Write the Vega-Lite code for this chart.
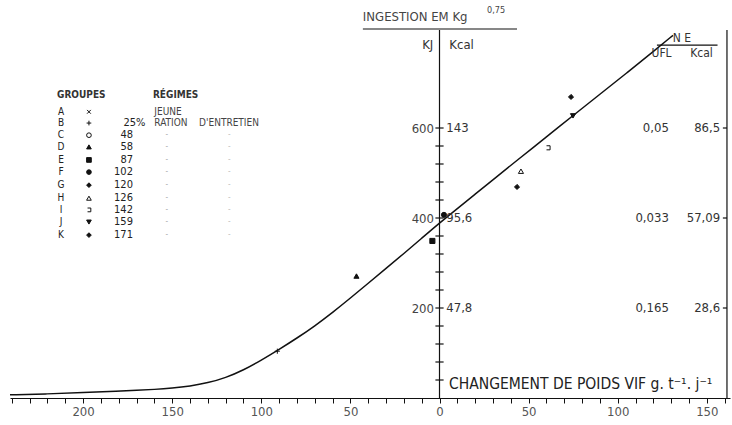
{
  "$schema": "https://vega.github.io/schema/vega-lite/v6.json",
  "width": 720,
  "height": 396,
  "autosize": {"type": "none"},
  "padding": {"left": 10, "top": 2, "right": 2, "bottom": 27},
  "background": "white",
  "config": {
    "view": {"stroke": null},
    "font": "DejaVu Sans Condensed, Liberation Sans Narrow, Liberation Sans, sans-serif",
    "text": {"font": "DejaVu Sans Condensed, Liberation Sans Narrow, Liberation Sans, sans-serif", "color": "#222"}
  },
  "resolve": {"axis": {"x": "independent", "y": "independent"}},
  "datasets": {
    "curve": [
      {"x": -241, "y": 7}, {"x": -220, "y": 9}, {"x": -200, "y": 12}, {"x": -180, "y": 15},
      {"x": -170, "y": 17}, {"x": -160, "y": 19}, {"x": -150, "y": 22}, {"x": -140, "y": 26.5},
      {"x": -130, "y": 33.5}, {"x": -120, "y": 45}, {"x": -110, "y": 62}, {"x": -100, "y": 84},
      {"x": -90, "y": 108}, {"x": -80, "y": 133}, {"x": -70, "y": 160}, {"x": -60, "y": 190},
      {"x": -50, "y": 222}, {"x": -40, "y": 255}, {"x": -30, "y": 288}, {"x": -20, "y": 321},
      {"x": -10, "y": 355}, {"x": 0, "y": 389}, {"x": 10, "y": 421}, {"x": 20, "y": 453},
      {"x": 30, "y": 485}, {"x": 45, "y": 533}, {"x": 60, "y": 580}, {"x": 75, "y": 628},
      {"x": 90, "y": 675}, {"x": 105, "y": 722}, {"x": 120, "y": 770}, {"x": 131, "y": 806}
    ],
    "points": [
      {"g": "B", "x": -91, "y": 104},
      {"g": "D", "x": -46.6, "y": 271},
      {"g": "E", "x": -4, "y": 349},
      {"g": "F", "x": 2.5, "y": 407},
      {"g": "G", "x": 43.5, "y": 469},
      {"g": "H", "x": 45.7, "y": 504},
      {"g": "I", "x": 60.9, "y": 556},
      {"g": "K", "x": 73.8, "y": 669},
      {"g": "J", "x": 74.9, "y": 627}
    ],
    "legend": [
      {"g": "A", "y": 636, "num": ""},
      {"g": "B", "y": 611, "num": ""},
      {"g": "C", "y": 584, "num": "48"},
      {"g": "D", "y": 558, "num": "58"},
      {"g": "E", "y": 529, "num": "87"},
      {"g": "F", "y": 502, "num": "102"},
      {"g": "G", "y": 473, "num": "120"},
      {"g": "H", "y": 444, "num": "126"},
      {"g": "I", "y": 418, "num": "142"},
      {"g": "J", "y": 391, "num": "159"},
      {"g": "K", "y": 362, "num": "171"}
    ],
    "segs": [
      {"x": 0, "x2": 0, "y": 0, "y2": 818},
      {"x": 161.3, "x2": 161.3, "y": 0, "y2": 818},
      {"x": -43, "x2": 43.5, "y": 820, "y2": 820},
      {"x": 122, "x2": 156, "y": 784, "y2": 784},
      {"x": -2.3, "x2": 2.3, "y": 40, "y2": 40},
      {"x": -2.3, "x2": 2.3, "y": 80, "y2": 80},
      {"x": -2.3, "x2": 2.3, "y": 120, "y2": 120},
      {"x": -2.3, "x2": 2.3, "y": 160, "y2": 160},
      {"x": -2.3, "x2": 2.3, "y": 200, "y2": 200},
      {"x": -2.3, "x2": 2.3, "y": 240, "y2": 240},
      {"x": -2.3, "x2": 2.3, "y": 280, "y2": 280},
      {"x": -2.3, "x2": 2.3, "y": 320, "y2": 320},
      {"x": -2.3, "x2": 2.3, "y": 360, "y2": 360},
      {"x": -2.3, "x2": 2.3, "y": 400, "y2": 400},
      {"x": -2.3, "x2": 2.3, "y": 440, "y2": 440},
      {"x": -2.3, "x2": 2.3, "y": 480, "y2": 480},
      {"x": -2.3, "x2": 2.3, "y": 520, "y2": 520},
      {"x": -2.3, "x2": 2.3, "y": 560, "y2": 560},
      {"x": -2.3, "x2": 2.3, "y": 600, "y2": 600},
      {"x": 159, "x2": 161.3, "y": 600, "y2": 600},
      {"x": 159, "x2": 161.3, "y": 400, "y2": 400},
      {"x": 159, "x2": 161.3, "y": 200, "y2": 200}
    ]
  },
  "layer": [
    {
      "data": {"name": "curve"},
      "mark": {"type": "line", "interpolate": "basis", "color": "#111", "strokeWidth": 1.5},
      "encoding": {
        "x": {
          "field": "x", "type": "quantitative", "title": null,
          "scale": {"domain": [-241, 163], "nice": false, "zero": false},
          "axis": {
            "values": [-240, -230, -220, -210, -200, -190, -180, -170, -160, -150, -140, -130, -120, -110, -100, -90, -80, -70, -60, -50, -40, -30, -20, -10, 0, 10, 20, 30, 40, 50, 60, 70, 80, 90, 100, 110, 120, 130, 140, 150, 160],
            "labelExpr": "datum.value % 50 == 0 ? format(abs(datum.value), 'd') : ''",
            "labelOverlap": false, "labelFlush": false,
            "grid": false, "tickSize": 5, "tickColor": "#111", "domainColor": "#111",
            "labelFontSize": 13, "labelColor": "#555", "labelPadding": 2,
            "labelFont": "DejaVu Sans Condensed, Liberation Sans Narrow, Liberation Sans, sans-serif"
          }
        },
        "y": {
          "field": "y", "type": "quantitative", "title": null,
          "scale": {"domain": [0, 880], "nice": false, "zero": false},
          "axis": {
            "orient": "left", "offset": -429.5, "values": [200, 400, 600],
            "ticks": false, "domain": false, "grid": false, "labelPadding": 6,
            "labelFontSize": 13, "labelColor": "#444",
            "labelFont": "DejaVu Sans Condensed, Liberation Sans Narrow, Liberation Sans, sans-serif"
          }
        }
      }
    },
    {
      "data": {"name": "segs"},
      "mark": {"type": "rule", "color": "#111", "strokeWidth": 1.2},
      "encoding": {
        "x": {"field": "x", "type": "quantitative", "axis": null},
        "x2": {"field": "x2"},
        "y": {"field": "y", "type": "quantitative", "axis": null},
        "y2": {"field": "y2"}
      }
    },
    {
      "data": {"name": "points"},
      "mark": {"type": "point", "stroke": "#111", "strokeWidth": 1, "opacity": 1, "size": 26},
      "encoding": {
        "x": {"field": "x", "type": "quantitative", "axis": null},
        "y": {"field": "y", "type": "quantitative", "axis": null},
        "shape": {"field": "g", "type": "nominal", "legend": null,
          "scale": {"domain": ["A","B","C","D","E","F","G","H","I","J","K"],
            "range": ["M-0.8,-0.8L0.8,0.8M-0.8,0.8L0.8,-0.8", "M-1,0L1,0M0,-1L0,1", "circle", "triangle-up", "square", "circle", "diamond", "triangle-up", "M-0.6,-0.8L0.8,-0.8L0.8,0.8L-0.6,0.8", "triangle-down", "diamond"]}},
        "fill": {"field": "g", "type": "nominal", "legend": null,
          "scale": {"domain": ["A","B","C","D","E","F","G","H","I","J","K"],
            "range": ["transparent","transparent","transparent","#111","#111","#111","#111","transparent","transparent","#111","#111"]}}
      }
    },
    {
      "data": {"name": "legend"},
      "mark": {"type": "point", "stroke": "#111", "strokeWidth": 1, "opacity": 1, "size": 22},
      "encoding": {
        "x": {"datum": -196.7, "type": "quantitative", "axis": null},
        "y": {"field": "y", "type": "quantitative", "axis": null},
        "shape": {"field": "g", "type": "nominal", "legend": null},
        "fill": {"field": "g", "type": "nominal", "legend": null}
      }
    },
    {
      "data": {"name": "legend"},
      "mark": {"type": "text", "align": "center", "baseline": "middle", "fontSize": 10},
      "encoding": {
        "x": {"datum": -212.4, "type": "quantitative", "axis": null},
        "y": {"field": "y", "type": "quantitative", "axis": null},
        "text": {"field": "g"}
      }
    },
    {
      "data": {"name": "legend"},
      "mark": {"type": "text", "align": "right", "baseline": "middle", "fontSize": 11},
      "encoding": {
        "x": {"datum": -172, "type": "quantitative", "axis": null},
        "y": {"field": "y", "type": "quantitative", "axis": null},
        "text": {"field": "num"}
      }
    },
    {
      "data": {"values": [{"x": -165, "y": 611, "t": "25%"}]},
      "mark": {"type": "text", "align": "right", "baseline": "middle", "fontSize": 11},
      "encoding": {
        "x": {"field": "x", "type": "quantitative", "axis": null},
        "y": {"field": "y", "type": "quantitative", "axis": null},
        "text": {"field": "t"}
      }
    },
    {
      "data": {"name": "legend"},
      "transform": [{"filter": "datum.g != 'A' && datum.g != 'B'"}],
      "mark": {"type": "text", "align": "center", "baseline": "middle", "fontSize": 8, "color": "#aaa"},
      "encoding": {
        "x": {"datum": -153, "type": "quantitative", "axis": null},
        "y": {"field": "y", "type": "quantitative", "axis": null},
        "text": {"value": "-"}
      }
    },
    {
      "data": {"name": "legend"},
      "transform": [{"filter": "datum.g != 'A' && datum.g != 'B'"}],
      "mark": {"type": "text", "align": "center", "baseline": "middle", "fontSize": 8, "color": "#bbb"},
      "encoding": {
        "x": {"datum": -118, "type": "quantitative", "axis": null},
        "y": {"field": "y", "type": "quantitative", "axis": null},
        "text": {"value": "-"}
      }
    },
    {
      "data": {"values": [
        {"x": -214.6, "y": 673, "t": "GROUPES"},
        {"x": -160.8, "y": 673, "t": "RÉGIMES"}
      ]},
      "mark": {"type": "text", "align": "left", "baseline": "middle", "fontSize": 10, "fontWeight": "bold", "color": "#333"},
      "encoding": {
        "x": {"field": "x", "type": "quantitative", "axis": null},
        "y": {"field": "y", "type": "quantitative", "axis": null},
        "text": {"field": "t"}
      }
    },
    {
      "data": {"values": [
        {"x": -160, "y": 636, "t": "JEUNE"},
        {"x": -160, "y": 611, "t": "RATION"},
        {"x": -134.9, "y": 611, "t": "D'ENTRETIEN"}
      ]},
      "mark": {"type": "text", "align": "left", "baseline": "middle", "fontSize": 10, "color": "#444"},
      "encoding": {
        "x": {"field": "x", "type": "quantitative", "axis": null},
        "y": {"field": "y", "type": "quantitative", "axis": null},
        "text": {"field": "t"}
      }
    },
    {
      "data": {"values": [
        {"x": -3.5, "y": 784, "t": "KJ"},
        {"x": 128.7, "y": 600, "t": "0,05"},
        {"x": 128.7, "y": 400, "t": "0,033"},
        {"x": 128.7, "y": 200, "t": "0,165"},
        {"x": 157.5, "y": 600, "t": "86,5"},
        {"x": 157.5, "y": 400, "t": "57,09"},
        {"x": 157.5, "y": 200, "t": "28,6"}
      ]},
      "mark": {"type": "text", "align": "right", "baseline": "middle", "fontSize": 13, "color": "#333"},
      "encoding": {
        "x": {"field": "x", "type": "quantitative", "axis": null},
        "y": {"field": "y", "type": "quantitative", "axis": null},
        "text": {"field": "t"}
      }
    },
    {
      "data": {"values": [
        {"x": 3.8, "y": 600, "t": "143"},
        {"x": 3.8, "y": 400, "t": "95,6"},
        {"x": 3.8, "y": 200, "t": "47,8"},
        {"x": 5.5, "y": 784, "t": "Kcal"}
      ]},
      "mark": {"type": "text", "align": "left", "baseline": "middle", "fontSize": 13, "color": "#333"},
      "encoding": {
        "x": {"field": "x", "type": "quantitative", "axis": null},
        "y": {"field": "y", "type": "quantitative", "axis": null},
        "text": {"field": "t"}
      }
    },
    {
      "data": {"values": [
        {"x": 136, "y": 800, "t": "N E"},
        {"x": 124.6, "y": 767, "t": "UFL"},
        {"x": 147, "y": 767, "t": "Kcal"}
      ]},
      "mark": {"type": "text", "align": "center", "baseline": "middle", "fontSize": 12, "color": "#333"},
      "encoding": {
        "x": {"field": "x", "type": "quantitative", "axis": null},
        "y": {"field": "y", "type": "quantitative", "axis": null},
        "text": {"field": "t"}
      }
    },
    {
      "data": {"values": [
        {"x": -43, "y": 846, "t": "INGESTION  EM  Kg"}
      ]},
      "mark": {"type": "text", "align": "left", "baseline": "middle", "fontSize": 13, "color": "#444"},
      "encoding": {
        "x": {"field": "x", "type": "quantitative", "axis": null},
        "y": {"field": "y", "type": "quantitative", "axis": null},
        "text": {"field": "t"}
      }
    },
    {
      "data": {"values": [
        {"x": 26.7, "y": 862, "t": "0,75"}
      ]},
      "mark": {"type": "text", "align": "left", "baseline": "middle", "fontSize": 9, "color": "#444"},
      "encoding": {
        "x": {"field": "x", "type": "quantitative", "axis": null},
        "y": {"field": "y", "type": "quantitative", "axis": null},
        "text": {"field": "t"}
      }
    },
    {
      "data": {"values": [
        {"x": 5.3, "y": 31, "t": "CHANGEMENT DE POIDS VIF g. t⁻¹. j⁻¹"}
      ]},
      "mark": {"type": "text", "align": "left", "baseline": "middle", "fontSize": 15.5, "color": "#222"},
      "encoding": {
        "x": {"field": "x", "type": "quantitative", "axis": null},
        "y": {"field": "y", "type": "quantitative", "axis": null},
        "text": {"field": "t"}
      }
    }
  ]
}
